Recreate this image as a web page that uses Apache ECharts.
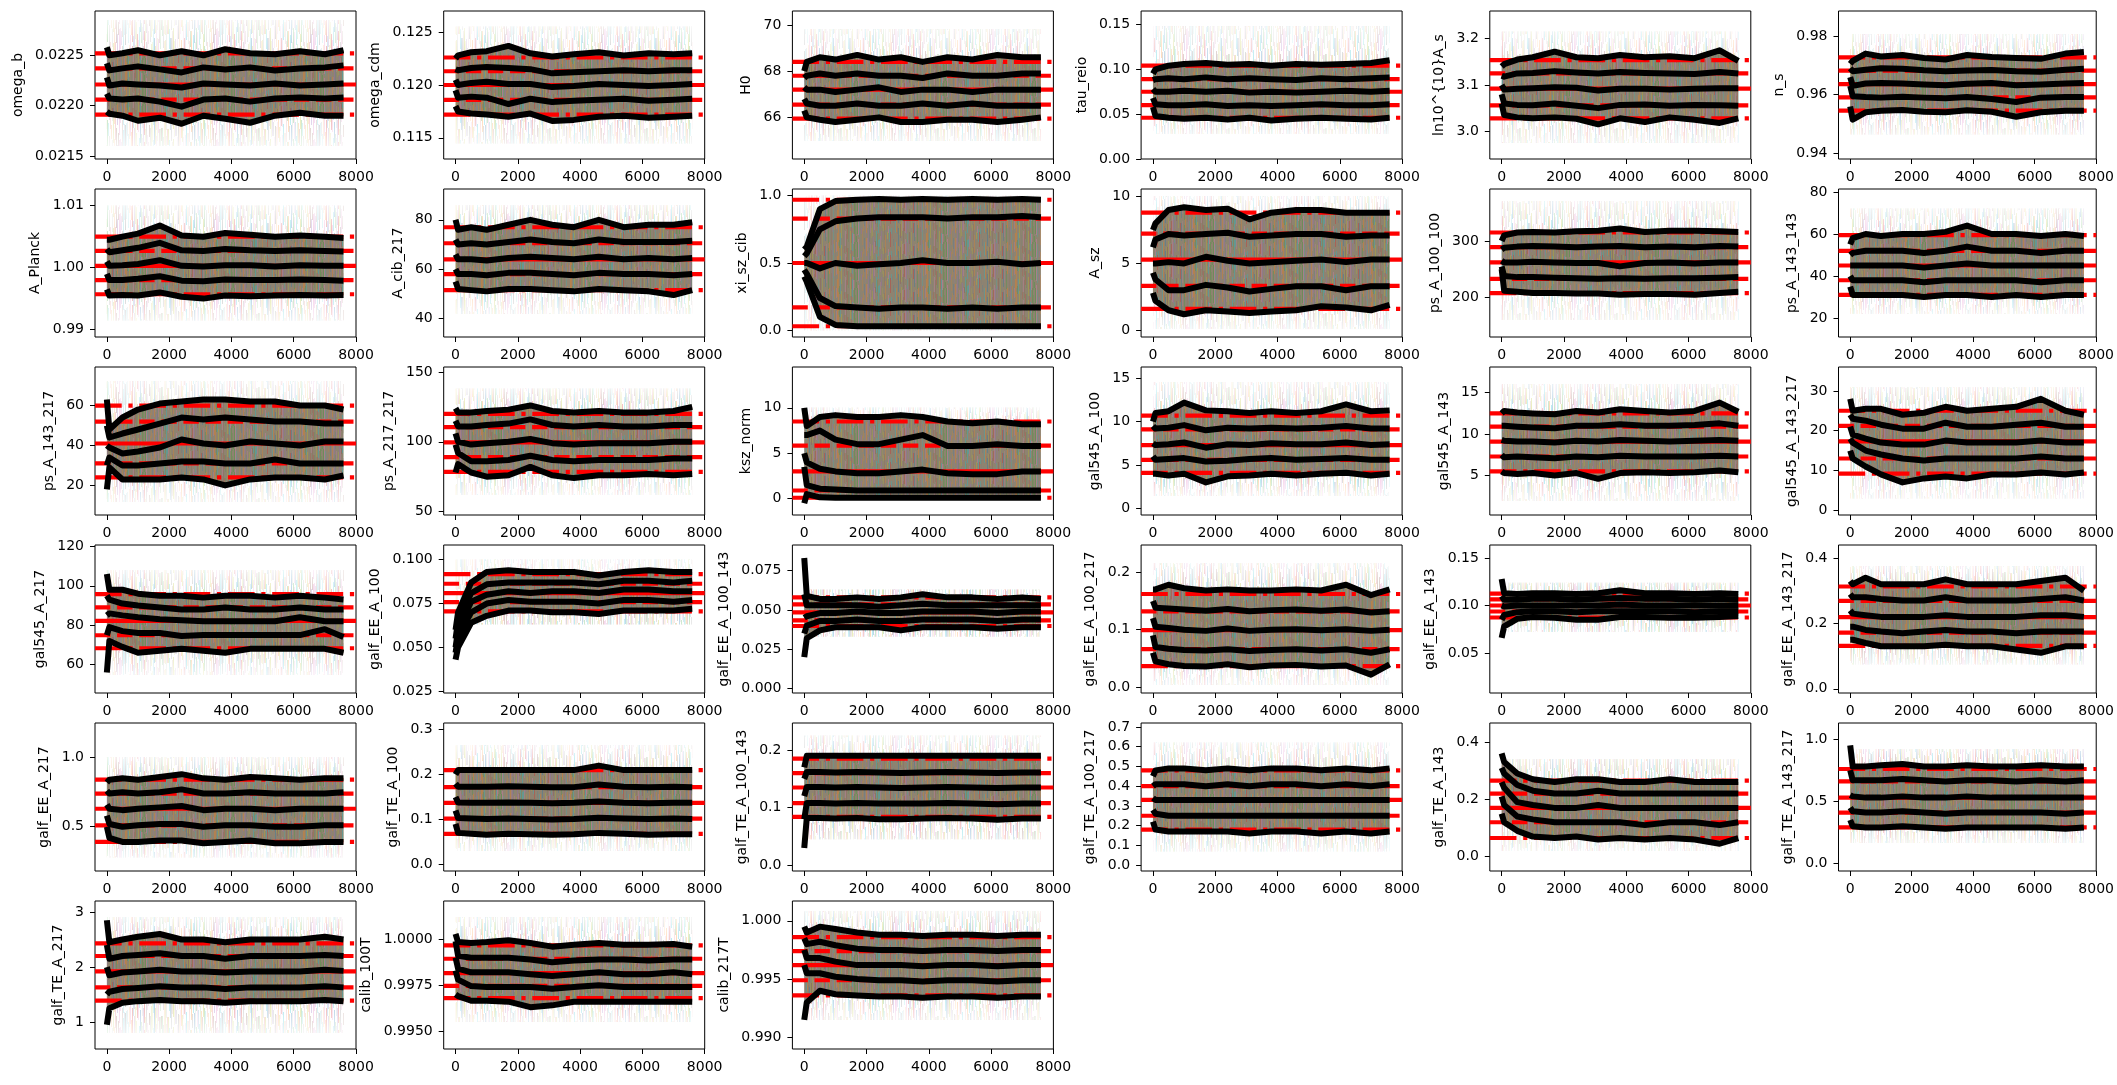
<!DOCTYPE html>
<html>
<head>
<meta charset="utf-8">
<script src="https://cdn.jsdelivr.net/npm/echarts@6.0.0/dist/echarts.min.js"></script>
<style>
  html, body { margin: 0; padding: 0; background: #fff; }
  #chart { width: 2117px; height: 1085px; }
</style>
</head>
<body>
<div id="chart"></div>
<script>
// sample index of the running-quantile traces
var steps = [0, 80, 500, 1000, 1700, 2400, 3100, 3800, 4600, 5400, 6200, 7000, 7600];

var names = [
  'omega_b', 'omega_cdm', 'H0', 'tau_reio', 'ln10^{10}A_s', 'n_s',
  'A_Planck', 'A_cib_217', 'xi_sz_cib', 'A_sz', 'ps_A_100_100', 'ps_A_143_143',
  'ps_A_143_217', 'ps_A_217_217', 'ksz_norm', 'gal545_A_100', 'gal545_A_143', 'gal545_A_143_217',
  'gal545_A_217', 'galf_EE_A_100', 'galf_EE_A_100_143', 'galf_EE_A_100_217', 'galf_EE_A_143', 'galf_EE_A_143_217',
  'galf_EE_A_217', 'galf_TE_A_100', 'galf_TE_A_100_143', 'galf_TE_A_100_217', 'galf_TE_A_143', 'galf_TE_A_143_217',
  'galf_TE_A_217', 'calib_100T', 'calib_217T'
];

var yLimits = [
  [0.02147, 0.02294], [0.1130, 0.1270], [64.2, 70.6], [0.0, 0.165], [2.94, 3.26], [0.9381, 0.9885],
  [0.9888, 1.0127], [32.5, 92.5], [-0.05, 1.05], [-0.5, 10.57], [130, 392], [11, 81.4],
  [5.2, 79.3], [47.6, 153.5], [-1.8, 14.5], [-0.76, 16.3], [0.24, 18.1], [-1.2, 36],
  [45.6, 120.7], [0.024, 0.1084], [-0.0028, 0.0913], [-0.0098, 0.247], [0.0079, 0.1637], [-0.013, 0.44],
  [0.18, 1.25], [-0.015, 0.315], [-0.01, 0.247], [-0.03, 0.72], [-0.05, 0.466], [-0.06, 1.13],
  [0.51, 3.2], [0.99402, 1.00209], [0.989, 1.0017]
];

var yTicks = [
  ['0.0215', '0.0220', '0.0225'], ['0.115', '0.120', '0.125'], ['66', '68', '70'],
  ['0.00', '0.05', '0.10', '0.15'], ['3.0', '3.1', '3.2'], ['0.94', '0.96', '0.98'],
  ['0.99', '1.00', '1.01'], ['40', '60', '80'], ['0.0', '0.5', '1.0'], ['0', '5', '10'],
  ['200', '300'], ['20', '40', '60', '80'],
  ['20', '40', '60'], ['50', '100', '150'], ['0', '5', '10'], ['0', '5', '10', '15'],
  ['5', '10', '15'], ['0', '10', '20', '30'],
  ['60', '80', '100', '120'], ['0.025', '0.050', '0.075', '0.100'], ['0.000', '0.025', '0.050', '0.075'],
  ['0.0', '0.1', '0.2'], ['0.05', '0.10', '0.15'], ['0.0', '0.2', '0.4'],
  ['0.5', '1.0'], ['0.0', '0.1', '0.2', '0.3'], ['0.0', '0.1', '0.2'],
  ['0.0', '0.1', '0.2', '0.3', '0.4', '0.5', '0.6', '0.7'], ['0.0', '0.2', '0.4'], ['0.0', '0.5', '1.0'],
  ['1', '2', '3'], ['0.9950', '0.9975', '1.0000'], ['0.990', '0.995', '1.000']
];

var xTicks = [0, 2000, 4000, 6000, 8000];

// red reference levels (outer, inner, median, inner, outer)
var redLevels = [
  [0.02252, 0.02237, 0.02221, 0.02206, 0.02191], [0.1226, 0.1213, 0.1200, 0.1186, 0.1172],
  [68.4, 67.8, 67.2, 66.55, 65.95], [0.104, 0.089, 0.075, 0.060, 0.046],
  [3.154, 3.125, 3.092, 3.056, 3.028], [0.9727, 0.9682, 0.9636, 0.9591, 0.9546],
  [1.005, 1.0027, 1.0003, 0.9980, 0.9957], [77, 70.5, 64, 58, 51.5], [0.97, 0.83, 0.50, 0.17, 0.03],
  [8.8, 7.23, 5.28, 3.32, 1.6], [315, 289, 262, 233, 207.5], [59.5, 52, 45, 38, 31],
  [60, 52, 41, 31, 24], [120, 110.5, 99.5, 89, 78.5], [8.5, 5.85, 3.0, 0.9, 0.1],
  [10.7, 9.1, 7.3, 5.6, 4.1], [12.5, 10.9, 9.1, 7.3, 5.5], [25, 21.2, 17.3, 13, 9.2],
  [95.8, 89, 82.2, 74.9, 68.3], [0.0918, 0.0863, 0.081, 0.0758, 0.0705], [0.058, 0.0536, 0.0485, 0.0434, 0.0398],
  [0.162, 0.132, 0.0994, 0.0665, 0.037], [0.1125, 0.1065, 0.1, 0.0937, 0.0874], [0.313, 0.269, 0.219, 0.172, 0.131],
  [0.84, 0.74, 0.63, 0.51, 0.39], [0.21, 0.172, 0.137, 0.102, 0.068], [0.185, 0.16, 0.135, 0.108, 0.084],
  [0.48, 0.40, 0.33, 0.25, 0.18], [0.265, 0.22, 0.17, 0.12, 0.065], [0.76, 0.66, 0.53, 0.41, 0.29],
  [2.43, 2.2, 1.92, 1.63, 1.39], [0.99967, 0.99894, 0.99816, 0.99746, 0.99679], [0.9986, 0.9974, 0.9962, 0.9949, 0.9936]
];

// extent of the faint individual chains
var haloRange = [
  [0.0216, 0.02285], [0.1145, 0.1255], [65.0, 69.8], [0.028, 0.148], [2.975, 3.215], [0.9465, 0.9805],
  [0.9915, 1.0100], [42, 86], [0.0, 1.0], [0.1, 10.0], [160, 370], [22, 72],
  [12, 72], [62, 138], [0.0, 10.0], [1.5, 14.5], [2, 16], [3, 31],
  [55, 108], [0.063, 0.100], [0.033, 0.063], [0.005, 0.215], [0.072, 0.124], [0.075, 0.375],
  [0.28, 1.0], [0.03, 0.265], [0.045, 0.225], [0.07, 0.62], [0.02, 0.34], [0.17, 0.92],
  [0.8, 2.9], [0.9955, 1.0012], [0.9915, 1.0008]
];

// running quantile traces, top to bottom, one value per entry of steps
var tr_omega_b = [
  [0.02258, 0.02250, 0.02252, 0.02255, 0.02250, 0.02254, 0.02250, 0.02256, 0.02252, 0.02251, 0.02254, 0.02251, 0.02255],
  [0.02242, 0.02235, 0.02237, 0.02239, 0.02236, 0.02233, 0.02238, 0.02236, 0.02238, 0.02235, 0.02237, 0.02238, 0.02240],
  [0.02228, 0.02220, 0.02222, 0.02221, 0.02220, 0.02218, 0.02222, 0.02221, 0.02220, 0.02222, 0.02220, 0.02221, 0.02222],
  [0.02212, 0.02207, 0.02206, 0.02207, 0.02204, 0.02199, 0.02206, 0.02207, 0.02204, 0.02207, 0.02208, 0.02207, 0.02208],
  [0.02194, 0.02192, 0.02190, 0.02185, 0.02188, 0.02182, 0.02190, 0.02187, 0.02183, 0.02190, 0.02193, 0.02190, 0.02190]
];
var tr_omega_cdm = [
  [0.1225, 0.1228, 0.1231, 0.1232, 0.1237, 0.1230, 0.1227, 0.1229, 0.1231, 0.1228, 0.1230, 0.1229, 0.1230],
  [0.1215, 0.1214, 0.1216, 0.1217, 0.1216, 0.1215, 0.1211, 0.1212, 0.1213, 0.1214, 0.1213, 0.1214, 0.1214],
  [0.1205, 0.1200, 0.1202, 0.1203, 0.1201, 0.1201, 0.1198, 0.1199, 0.1201, 0.1200, 0.1199, 0.1200, 0.1201],
  [0.1195, 0.1188, 0.1189, 0.1188, 0.1182, 0.1187, 0.1184, 0.1185, 0.1186, 0.1187, 0.1185, 0.1186, 0.1187],
  [0.1180, 0.1175, 0.1173, 0.1172, 0.1170, 0.1173, 0.1166, 0.1167, 0.1170, 0.1171, 0.1169, 0.1170, 0.1171]
];
var tr_H0 = [
  [68.0, 68.4, 68.6, 68.5, 68.7, 68.5, 68.6, 68.4, 68.6, 68.5, 68.7, 68.6, 68.6],
  [67.7, 67.8, 67.9, 67.8, 67.9, 67.8, 67.8, 67.7, 67.9, 67.8, 67.8, 67.9, 67.9],
  [67.3, 67.2, 67.2, 67.1, 67.2, 67.3, 67.1, 67.2, 67.2, 67.1, 67.2, 67.2, 67.2],
  [66.8, 66.6, 66.5, 66.5, 66.6, 66.5, 66.5, 66.6, 66.5, 66.6, 66.5, 66.5, 66.5],
  [66.3, 66.0, 65.9, 65.8, 65.9, 66.0, 65.8, 65.8, 65.9, 65.9, 65.8, 65.9, 66.0]
];
var tr_tau_reio = [
  [0.095, 0.100, 0.104, 0.106, 0.107, 0.105, 0.106, 0.104, 0.106, 0.105, 0.106, 0.107, 0.110],
  [0.088, 0.089, 0.090, 0.089, 0.091, 0.089, 0.090, 0.089, 0.088, 0.090, 0.089, 0.090, 0.091],
  [0.078, 0.075, 0.075, 0.076, 0.075, 0.076, 0.074, 0.075, 0.074, 0.075, 0.076, 0.075, 0.076],
  [0.068, 0.061, 0.060, 0.060, 0.061, 0.059, 0.060, 0.059, 0.060, 0.061, 0.060, 0.060, 0.061],
  [0.058, 0.048, 0.046, 0.045, 0.046, 0.044, 0.046, 0.043, 0.045, 0.046, 0.045, 0.044, 0.046]
];
var tr_A_s = [
  [3.140, 3.145, 3.155, 3.160, 3.172, 3.160, 3.158, 3.165, 3.160, 3.162, 3.158, 3.175, 3.152],
  [3.120, 3.118, 3.125, 3.126, 3.130, 3.127, 3.125, 3.128, 3.126, 3.125, 3.124, 3.128, 3.125],
  [3.100, 3.090, 3.092, 3.093, 3.095, 3.094, 3.088, 3.092, 3.092, 3.090, 3.092, 3.093, 3.093],
  [3.080, 3.060, 3.057, 3.056, 3.060, 3.055, 3.050, 3.057, 3.058, 3.055, 3.057, 3.056, 3.055],
  [3.060, 3.035, 3.030, 3.028, 3.030, 3.027, 3.015, 3.028, 3.020, 3.030, 3.025, 3.018, 3.028]
];
var tr_n_s = [
  [0.9705, 0.9715, 0.9740, 0.9730, 0.9735, 0.9725, 0.9720, 0.9735, 0.9728, 0.9725, 0.9722, 0.9740, 0.9745],
  [0.9690, 0.9680, 0.9685, 0.9690, 0.9688, 0.9683, 0.9680, 0.9682, 0.9684, 0.9680, 0.9678, 0.9685, 0.9688],
  [0.9660, 0.9630, 0.9638, 0.9640, 0.9638, 0.9635, 0.9632, 0.9637, 0.9640, 0.9632, 0.9635, 0.9638, 0.9640],
  [0.9630, 0.9595, 0.9592, 0.9590, 0.9593, 0.9590, 0.9588, 0.9592, 0.9585, 0.9575, 0.9590, 0.9592, 0.9592],
  [0.9560, 0.9515, 0.9540, 0.9545, 0.9548, 0.9542, 0.9540, 0.9547, 0.9542, 0.9525, 0.9540, 0.9545, 0.9545]
];
var tr_A_Planck = [
  [1.0045, 1.0045, 1.0050, 1.0055, 1.0068, 1.0052, 1.0050, 1.0056, 1.0053, 1.0050, 1.0052, 1.0050, 1.0048],
  [1.0030, 1.0025, 1.0028, 1.0032, 1.0040, 1.0028, 1.0027, 1.0030, 1.0028, 1.0027, 1.0028, 1.0027, 1.0026],
  [1.0010, 1.0003, 1.0004, 1.0006, 1.0012, 1.0003, 1.0002, 1.0004, 1.0004, 1.0002, 1.0004, 1.0003, 1.0003],
  [0.9990, 0.9980, 0.9980, 0.9982, 0.9986, 0.9979, 0.9978, 0.9981, 0.9980, 0.9980, 0.9981, 0.9980, 0.9979],
  [0.9965, 0.9955, 0.9956, 0.9955, 0.9960, 0.9953, 0.9950, 0.9955, 0.9954, 0.9955, 0.9956, 0.9955, 0.9956]
];
var tr_A_cib_217 = [
  [80, 76, 77, 76, 78, 80, 78, 77, 80, 77, 78, 78, 79],
  [72, 70, 70.5, 70, 71, 72, 71, 70.5, 72, 71, 71, 71, 71.5],
  [66, 64, 64, 63.5, 64.5, 65, 64.5, 64, 65, 64, 64.5, 64, 64.5],
  [60, 58, 58, 57.5, 58.5, 58.5, 58, 57.5, 58.5, 58, 58, 57.5, 58],
  [55, 52, 51.5, 51, 52, 52, 51.5, 51, 52, 51.5, 51, 49.5, 51.5]
];
var tr_xi_sz_cib = [
  [0.60, 0.62, 0.90, 0.96, 0.97, 0.975, 0.97, 0.975, 0.97, 0.975, 0.97, 0.975, 0.97],
  [0.55, 0.57, 0.75, 0.81, 0.83, 0.84, 0.84, 0.84, 0.83, 0.84, 0.84, 0.85, 0.84],
  [0.50, 0.50, 0.46, 0.50, 0.48, 0.49, 0.50, 0.52, 0.50, 0.50, 0.51, 0.49, 0.50],
  [0.45, 0.42, 0.24, 0.18, 0.17, 0.16, 0.17, 0.17, 0.16, 0.17, 0.16, 0.17, 0.17],
  [0.40, 0.36, 0.10, 0.04, 0.03, 0.03, 0.03, 0.03, 0.03, 0.03, 0.03, 0.03, 0.03]
];
var tr_A_sz = [
  [7.5, 8.0, 9.0, 9.2, 9.0, 9.1, 8.3, 8.8, 9.0, 9.0, 8.8, 8.8, 8.8],
  [6.2, 6.8, 7.2, 7.1, 7.2, 7.3, 7.0, 7.1, 7.2, 7.2, 7.0, 7.1, 7.1],
  [5.0, 5.0, 5.1, 5.0, 5.5, 5.2, 5.0, 5.1, 5.2, 5.3, 5.1, 5.3, 5.3],
  [4.3, 3.8, 3.0, 3.0, 3.4, 3.2, 2.9, 3.1, 3.3, 3.3, 3.0, 3.3, 3.3],
  [2.8, 2.2, 1.5, 1.2, 1.5, 1.4, 1.3, 1.4, 1.5, 1.8, 1.7, 1.5, 1.9]
];
var tr_ps_A_100_100 = [
  [300, 310, 315, 316, 315, 317, 318, 322, 316, 318, 318, 317, 316],
  [285, 288, 290, 291, 290, 289, 290, 291, 289, 290, 289, 291, 290],
  [265, 262, 262, 263, 262, 261, 261, 255, 261, 262, 260, 262, 262],
  [255, 238, 236, 236, 235, 234, 233, 234, 233, 234, 234, 235, 236],
  [250, 212, 210, 208, 208, 207, 207, 205, 206, 206, 205, 208, 210]
];
var tr_ps_A_143_143 = [
  [55, 58, 60, 59, 60, 60, 61, 64, 60, 60, 59, 60, 59],
  [50, 51, 52, 52, 52, 51, 52, 54, 52, 52, 51, 52, 52],
  [45, 45, 45, 45, 45, 44, 45, 46, 45, 45, 45, 45, 45],
  [40, 38, 38, 38, 38, 37, 38, 38, 38, 38, 37, 38, 38],
  [35, 31, 31, 31, 31, 30, 31, 31, 30, 31, 30, 31, 31]
];
var tr_ps_A_143_217 = [
  [63, 48, 54, 58, 61, 62, 63, 63, 62, 62, 60, 60, 58],
  [50, 44, 46, 48, 51, 54, 53, 54, 53, 52, 52, 51, 51],
  [40, 39, 36, 37, 39, 43, 41, 40, 42, 41, 40, 42, 42],
  [30, 34, 30, 30, 31, 32, 32, 31, 31, 33, 31, 31, 31],
  [18, 29, 23, 23, 23, 24, 23, 20, 23, 24, 24, 23, 25]
];
var tr_ps_A_217_217 = [
  [124, 121, 121, 122, 123, 126, 122, 121, 122, 121, 121, 122, 125],
  [115, 111, 111, 112, 113, 116, 112, 111, 112, 111, 111, 112, 112],
  [106, 100, 98, 99, 100, 102, 99, 98, 99, 99, 99, 100, 100],
  [98, 92, 86, 86, 87, 90, 87, 86, 87, 87, 87, 88, 88],
  [78, 84, 78, 75, 76, 82, 76, 74, 76, 76, 77, 76, 77]
];
var tr_ksz_norm = [
  [10, 8, 9, 9.2, 9, 9, 9.2, 9, 8.5, 8.3, 8.5, 8.2, 8.2],
  [7, 7, 7.5, 6.5, 6, 6, 6.5, 7, 5.8, 5.8, 6, 5.8, 5.8],
  [5, 4, 3.3, 3, 2.8, 2.8, 3, 3.2, 2.8, 2.7, 2.7, 3, 3],
  [3.5, 1.5, 1.1, 1, 0.9, 0.9, 0.9, 0.9, 0.9, 0.9, 0.9, 0.9, 0.9],
  [-0.5, 0.5, 0.15, 0.1, 0.1, 0.1, 0.1, 0.1, 0.1, 0.1, 0.1, 0.1, 0.1]
];
var tr_gal545_A_100 = [
  [10, 11, 11.2, 12.2, 11.3, 11.2, 11.0, 11.2, 11.0, 11.2, 12.0, 11.2, 11.3],
  [9.5, 9.2, 9.3, 9.6, 9.0, 9.3, 9.2, 9.3, 9.2, 9.3, 9.5, 9.2, 9.2],
  [7.5, 7.3, 7.4, 7.6, 7.0, 7.4, 7.3, 7.5, 7.4, 7.4, 7.6, 7.3, 7.4],
  [6, 5.6, 5.7, 5.8, 5.4, 5.5, 5.7, 5.8, 5.6, 5.7, 5.8, 5.6, 5.6],
  [4, 4.0, 3.8, 4.0, 3.0, 3.7, 3.8, 4.0, 3.8, 4.0, 4.1, 3.8, 4.0]
];
var tr_gal545_A_143 = [
  [12.5, 12.8, 12.6, 12.5, 12.4, 12.8, 12.6, 13.0, 12.8, 12.6, 12.8, 13.8, 12.7],
  [11, 11, 10.9, 10.8, 10.7, 11, 11, 11.2, 11, 11, 11.1, 11.3, 11],
  [9.3, 9.2, 9.1, 9.1, 9.0, 9.2, 9.1, 9.3, 9.2, 9.1, 9.2, 9.3, 9.2],
  [7.5, 7.2, 7.3, 7.2, 7.1, 7.3, 7.2, 7.4, 7.3, 7.3, 7.3, 7.4, 7.3],
  [5.5, 5.3, 5.2, 5.3, 5.0, 5.3, 4.6, 5.3, 5.4, 5.3, 5.4, 5.6, 5.4]
];
var tr_gal545_A_143_217 = [
  [28, 25, 25.5, 25.5, 24, 24.5, 26, 25, 25.5, 26, 28, 25, 24],
  [24, 23, 22.5, 21.5, 20.5, 20.5, 22, 21, 21, 21.5, 22, 21, 21],
  [21, 19, 18, 17, 16.5, 16.5, 17.5, 17, 17, 17, 17.5, 17, 17],
  [18, 17, 15, 14, 13, 12.5, 13, 13, 13, 13, 13.5, 13, 13],
  [15, 13, 11, 9, 7, 8, 8.5, 8, 9, 9, 9.5, 9, 9.5]
];
var tr_gal545_A_217 = [
  [106, 98, 98, 96, 95, 95, 94, 95, 95, 94, 95, 94, 93],
  [95, 93, 91, 90, 89, 88, 88, 89, 88, 88, 89, 88, 88],
  [85, 86, 85, 84, 83, 82.5, 82, 82, 82, 82, 84, 82, 82],
  [75, 79, 77, 76, 76, 74.5, 75, 75, 75, 75, 75, 78, 74],
  [56, 72, 69, 66, 67, 68, 67, 66, 68, 68, 68, 68, 66]
];
var tr_galf_EE_A_100 = [
  [0.060, 0.070, 0.087, 0.093, 0.094, 0.093, 0.093, 0.093, 0.091, 0.093, 0.094, 0.093, 0.093],
  [0.055, 0.065, 0.081, 0.086, 0.087, 0.087, 0.087, 0.087, 0.086, 0.088, 0.088, 0.087, 0.088],
  [0.050, 0.060, 0.076, 0.080, 0.082, 0.081, 0.082, 0.082, 0.081, 0.083, 0.083, 0.082, 0.082],
  [0.047, 0.056, 0.070, 0.075, 0.077, 0.076, 0.076, 0.076, 0.075, 0.077, 0.077, 0.076, 0.077],
  [0.043, 0.050, 0.064, 0.068, 0.071, 0.071, 0.070, 0.070, 0.069, 0.071, 0.071, 0.071, 0.072]
];
var tr_galf_EE_A_100_143 = [
  [0.083, 0.059, 0.057, 0.057, 0.058, 0.057, 0.058, 0.060, 0.058, 0.058, 0.057, 0.058, 0.057],
  [0.060, 0.053, 0.053, 0.053, 0.053, 0.052, 0.053, 0.054, 0.053, 0.053, 0.053, 0.053, 0.053],
  [0.045, 0.046, 0.048, 0.048, 0.049, 0.048, 0.048, 0.049, 0.049, 0.049, 0.048, 0.049, 0.049],
  [0.035, 0.040, 0.043, 0.043, 0.044, 0.043, 0.043, 0.044, 0.044, 0.044, 0.043, 0.044, 0.044],
  [0.020, 0.032, 0.037, 0.039, 0.039, 0.039, 0.037, 0.039, 0.039, 0.039, 0.038, 0.039, 0.039]
];
var tr_galf_EE_A_100_217 = [
  [0.17, 0.17, 0.178, 0.172, 0.168, 0.170, 0.168, 0.168, 0.170, 0.168, 0.178, 0.160, 0.170],
  [0.15, 0.138, 0.137, 0.135, 0.133, 0.136, 0.132, 0.134, 0.135, 0.133, 0.135, 0.130, 0.132],
  [0.12, 0.105, 0.103, 0.100, 0.098, 0.102, 0.098, 0.100, 0.101, 0.099, 0.101, 0.098, 0.100],
  [0.09, 0.070, 0.067, 0.065, 0.064, 0.066, 0.063, 0.065, 0.066, 0.064, 0.066, 0.060, 0.066],
  [0.06, 0.045, 0.040, 0.037, 0.036, 0.040, 0.035, 0.038, 0.039, 0.036, 0.038, 0.022, 0.040]
];
var tr_galf_EE_A_143 = [
  [0.128, 0.113, 0.112, 0.113, 0.113, 0.112, 0.113, 0.116, 0.113, 0.113, 0.112, 0.113, 0.112],
  [0.110, 0.106, 0.106, 0.107, 0.107, 0.106, 0.107, 0.108, 0.107, 0.107, 0.106, 0.107, 0.106],
  [0.100, 0.099, 0.100, 0.100, 0.100, 0.100, 0.100, 0.101, 0.100, 0.100, 0.100, 0.100, 0.100],
  [0.085, 0.090, 0.093, 0.094, 0.094, 0.093, 0.094, 0.094, 0.094, 0.094, 0.093, 0.094, 0.094],
  [0.066, 0.078, 0.086, 0.088, 0.087, 0.085, 0.085, 0.088, 0.088, 0.087, 0.087, 0.088, 0.089]
];
var tr_galf_EE_A_143_217 = [
  [0.33, 0.32, 0.34, 0.32, 0.32, 0.32, 0.335, 0.32, 0.32, 0.32, 0.33, 0.34, 0.30],
  [0.29, 0.28, 0.28, 0.275, 0.27, 0.27, 0.28, 0.27, 0.27, 0.27, 0.275, 0.28, 0.27],
  [0.24, 0.23, 0.225, 0.22, 0.22, 0.22, 0.225, 0.22, 0.22, 0.22, 0.225, 0.225, 0.22],
  [0.19, 0.19, 0.18, 0.175, 0.17, 0.175, 0.18, 0.175, 0.175, 0.17, 0.175, 0.175, 0.175],
  [0.15, 0.15, 0.14, 0.13, 0.13, 0.13, 0.135, 0.13, 0.13, 0.12, 0.11, 0.13, 0.13]
];
var tr_galf_EE_A_217 = [
  [0.82, 0.84, 0.85, 0.84, 0.86, 0.88, 0.85, 0.84, 0.86, 0.85, 0.84, 0.85, 0.85],
  [0.76, 0.74, 0.75, 0.74, 0.75, 0.77, 0.74, 0.74, 0.75, 0.74, 0.74, 0.74, 0.75],
  [0.66, 0.63, 0.62, 0.63, 0.64, 0.65, 0.62, 0.63, 0.63, 0.62, 0.63, 0.63, 0.63],
  [0.58, 0.52, 0.50, 0.51, 0.52, 0.52, 0.50, 0.51, 0.51, 0.50, 0.50, 0.51, 0.51],
  [0.50, 0.42, 0.39, 0.39, 0.40, 0.40, 0.38, 0.39, 0.40, 0.38, 0.38, 0.39, 0.39]
];
var tr_galf_TE_A_100 = [
  [0.20, 0.21, 0.21, 0.21, 0.21, 0.21, 0.21, 0.21, 0.22, 0.21, 0.21, 0.21, 0.21],
  [0.18, 0.173, 0.173, 0.173, 0.174, 0.173, 0.172, 0.172, 0.178, 0.173, 0.172, 0.173, 0.172],
  [0.15, 0.138, 0.137, 0.137, 0.138, 0.137, 0.136, 0.137, 0.140, 0.137, 0.136, 0.137, 0.137],
  [0.12, 0.103, 0.102, 0.101, 0.102, 0.101, 0.100, 0.101, 0.104, 0.102, 0.101, 0.102, 0.101],
  [0.09, 0.070, 0.068, 0.066, 0.068, 0.067, 0.066, 0.067, 0.070, 0.068, 0.066, 0.067, 0.067]
];
var tr_galf_TE_A_100_143 = [
  [0.17, 0.19, 0.19, 0.19, 0.19, 0.19, 0.19, 0.19, 0.19, 0.19, 0.19, 0.19, 0.19],
  [0.15, 0.162, 0.162, 0.161, 0.162, 0.161, 0.160, 0.161, 0.162, 0.161, 0.160, 0.161, 0.161],
  [0.12, 0.136, 0.136, 0.135, 0.136, 0.135, 0.134, 0.135, 0.136, 0.135, 0.134, 0.135, 0.135],
  [0.08, 0.108, 0.108, 0.107, 0.108, 0.107, 0.107, 0.107, 0.108, 0.107, 0.106, 0.107, 0.107],
  [0.03, 0.082, 0.082, 0.081, 0.082, 0.080, 0.080, 0.081, 0.082, 0.081, 0.079, 0.081, 0.081]
];
var tr_galf_TE_A_100_217 = [
  [0.45, 0.48, 0.49, 0.49, 0.48, 0.49, 0.48, 0.49, 0.49, 0.48, 0.49, 0.48, 0.49],
  [0.40, 0.41, 0.41, 0.41, 0.40, 0.41, 0.40, 0.41, 0.41, 0.40, 0.41, 0.40, 0.41],
  [0.34, 0.33, 0.33, 0.33, 0.33, 0.33, 0.33, 0.33, 0.33, 0.33, 0.33, 0.33, 0.33],
  [0.28, 0.26, 0.25, 0.25, 0.25, 0.25, 0.25, 0.25, 0.25, 0.25, 0.25, 0.25, 0.25],
  [0.22, 0.18, 0.17, 0.17, 0.17, 0.17, 0.16, 0.17, 0.17, 0.16, 0.17, 0.16, 0.17]
];
var tr_galf_TE_A_143 = [
  [0.36, 0.33, 0.29, 0.27, 0.26, 0.27, 0.27, 0.26, 0.26, 0.27, 0.26, 0.26, 0.26],
  [0.31, 0.29, 0.25, 0.23, 0.22, 0.22, 0.23, 0.22, 0.22, 0.22, 0.22, 0.22, 0.22],
  [0.26, 0.24, 0.19, 0.18, 0.17, 0.17, 0.18, 0.17, 0.17, 0.17, 0.17, 0.17, 0.17],
  [0.21, 0.18, 0.14, 0.13, 0.12, 0.12, 0.12, 0.12, 0.11, 0.12, 0.12, 0.11, 0.12],
  [0.15, 0.12, 0.09, 0.07, 0.065, 0.07, 0.06, 0.065, 0.06, 0.065, 0.06, 0.045, 0.065]
];
var tr_galf_TE_A_143_217 = [
  [0.95, 0.78, 0.78, 0.79, 0.80, 0.78, 0.78, 0.79, 0.78, 0.78, 0.79, 0.78, 0.78],
  [0.75, 0.67, 0.67, 0.67, 0.68, 0.67, 0.66, 0.67, 0.67, 0.66, 0.67, 0.66, 0.67],
  [0.55, 0.54, 0.53, 0.53, 0.54, 0.53, 0.53, 0.54, 0.53, 0.53, 0.53, 0.53, 0.53],
  [0.45, 0.42, 0.41, 0.41, 0.42, 0.41, 0.40, 0.41, 0.41, 0.41, 0.41, 0.40, 0.41],
  [0.35, 0.30, 0.29, 0.29, 0.30, 0.29, 0.28, 0.29, 0.29, 0.29, 0.29, 0.28, 0.29]
];
var tr_galf_TE_A_217 = [
  [2.85, 2.45, 2.5, 2.55, 2.6, 2.5, 2.5, 2.45, 2.5, 2.5, 2.5, 2.55, 2.5],
  [2.4, 2.15, 2.2, 2.22, 2.25, 2.2, 2.2, 2.15, 2.2, 2.2, 2.2, 2.22, 2.2],
  [2.0, 1.85, 1.9, 1.92, 1.95, 1.92, 1.92, 1.9, 1.92, 1.92, 1.92, 1.95, 1.93],
  [1.5, 1.55, 1.6, 1.62, 1.65, 1.63, 1.63, 1.6, 1.63, 1.63, 1.63, 1.65, 1.63],
  [0.95, 1.25, 1.35, 1.38, 1.4, 1.38, 1.38, 1.35, 1.38, 1.38, 1.38, 1.4, 1.38]
];
var tr_calib_100T = [
  [1.0003, 0.99985, 0.9998, 0.99985, 0.99995, 0.9998, 0.9996, 0.9997, 0.9998, 0.9997, 0.9997, 0.99975, 0.9996],
  [0.9999, 0.9991, 0.9990, 0.9990, 0.9990, 0.9989, 0.99875, 0.99885, 0.9989, 0.9989, 0.99885, 0.9989, 0.9989],
  [0.9990, 0.9984, 0.9982, 0.9982, 0.9982, 0.9981, 0.9980, 0.9981, 0.9982, 0.9981, 0.9981, 0.9982, 0.9981],
  [0.9983, 0.9978, 0.99745, 0.9974, 0.9974, 0.9974, 0.9973, 0.9974, 0.9975, 0.9974, 0.9974, 0.9974, 0.9974],
  [0.9970, 0.9969, 0.99665, 0.99665, 0.9966, 0.9963, 0.9964, 0.9966, 0.9966, 0.9966, 0.9966, 0.9966, 0.9966]
];
var tr_calib_217T = [
  [0.9995, 0.9990, 0.9995, 0.9993, 0.9990, 0.9988, 0.9988, 0.9987, 0.9988, 0.9988, 0.9987, 0.9988, 0.9988],
  [0.9985, 0.9980, 0.9982, 0.9979, 0.9976, 0.9975, 0.9975, 0.9974, 0.9975, 0.9975, 0.9974, 0.9975, 0.9975],
  [0.9975, 0.9968, 0.9968, 0.9965, 0.9962, 0.9962, 0.9962, 0.9961, 0.9962, 0.9962, 0.9961, 0.9962, 0.9962],
  [0.9962, 0.9955, 0.9955, 0.9952, 0.9950, 0.9949, 0.9949, 0.9948, 0.9949, 0.9949, 0.9948, 0.9949, 0.9949],
  [0.9915, 0.9930, 0.9940, 0.9937, 0.9936, 0.9935, 0.9935, 0.9934, 0.9935, 0.9935, 0.9934, 0.9935, 0.9935]
];

var traces = [
  tr_omega_b, tr_omega_cdm, tr_H0, tr_tau_reio, tr_A_s, tr_n_s,
  tr_A_Planck, tr_A_cib_217, tr_xi_sz_cib, tr_A_sz, tr_ps_A_100_100, tr_ps_A_143_143,
  tr_ps_A_143_217, tr_ps_A_217_217, tr_ksz_norm, tr_gal545_A_100, tr_gal545_A_143, tr_gal545_A_143_217,
  tr_gal545_A_217, tr_galf_EE_A_100, tr_galf_EE_A_100_143, tr_galf_EE_A_100_217, tr_galf_EE_A_143, tr_galf_EE_A_143_217,
  tr_galf_EE_A_217, tr_galf_TE_A_100, tr_galf_TE_A_100_143, tr_galf_TE_A_100_217, tr_galf_TE_A_143, tr_galf_TE_A_143_217,
  tr_galf_TE_A_217, tr_calib_100T, tr_calib_217T
];

// layout of the axes grid (pixels)
var COLS = 6;
var LEFT0 = 95, COL_STEP = 348.7, TOP0 = 11, ROW_STEP = 178;
var AX_W = 261, AX_H = 148;
var X_MIN = -381, X_MAX = 8001;
var FONT = 'DejaVu Sans';

var tab10 = ['#1f77b4', '#ff7f0e', '#2ca02c', '#d62728', '#9467bd',
             '#8c564b', '#e377c2', '#7f7f7f', '#bcbd22', '#17becf'];

function hexRgb(h) {
  return [parseInt(h.substr(1, 2), 16), parseInt(h.substr(3, 2), 16), parseInt(h.substr(5, 2), 16)];
}

// fixed hash used only to scatter the texture colours
function hash(i) {
  var x = Math.imul(i + 1, 2654435761) >>> 0;
  x = Math.imul(x ^ (x >>> 15), 2246822519) >>> 0;
  return (x ^ (x >>> 13)) >>> 0;
}

// texture standing in for the many overplotted chains between the outer traces
function corePattern() {
  var c = document.createElement('canvas');
  c.width = 89; c.height = 23;
  var ctx = c.getContext('2d');
  ctx.fillStyle = 'rgb(142,131,112)';
  ctx.fillRect(0, 0, c.width, c.height);
  for (var i = 0; i < c.width; i++) {
    var h = hash(i + 7);
    var t = hexRgb(tab10[h % 10]);
    var a = 0.16 + 0.18 * ((h >>> 4) % 5) / 4;
    ctx.fillStyle = 'rgba(' + t[0] + ',' + t[1] + ',' + t[2] + ',' + a.toFixed(3) + ')';
    var y0 = (h >>> 9) % c.height, len = 6 + (h >>> 13) % 14;
    ctx.fillRect(i, y0, 1, len);
    if (y0 + len > c.height) ctx.fillRect(i, 0, 1, y0 + len - c.height);
  }
  return { image: c, repeat: 'repeat' };
}

// faint spikes of single chains outside the dense region
function haloPattern() {
  var c = document.createElement('canvas');
  c.width = 97; c.height = 37;
  var ctx = c.getContext('2d');
  for (var i = 0; i < c.width; i++) {
    var h = hash(i + 101);
    var t = hexRgb(tab10[h % 10]);
    var a = 0.14 + 0.18 * ((h >>> 5) % 4) / 3;
    ctx.fillStyle = 'rgba(' + t[0] + ',' + t[1] + ',' + t[2] + ',' + a.toFixed(3) + ')';
    var y0 = (h >>> 9) % c.height, len = 12 + (h >>> 14) % 22;
    ctx.fillRect(i, y0, 1, len);
    if (y0 + len > c.height) ctx.fillRect(i, 0, 1, y0 + len - c.height);
  }
  return { image: c, repeat: 'repeat' };
}

var coreFill = corePattern();
var haloFill = haloPattern();
// white veils that thin the halo out towards its outer edges
var fadeUp = new echarts.graphic.LinearGradient(0, 0, 0, 1, [
  { offset: 0, color: 'rgba(255,255,255,0.7)' },
  { offset: 0.6, color: 'rgba(255,255,255,0.2)' },
  { offset: 1, color: 'rgba(255,255,255,0)' }
]);
var fadeDown = new echarts.graphic.LinearGradient(0, 0, 0, 1, [
  { offset: 0, color: 'rgba(255,255,255,0)' },
  { offset: 0.4, color: 'rgba(255,255,255,0.2)' },
  { offset: 1, color: 'rgba(255,255,255,0.7)' }
]);

var meas = document.createElement('canvas').getContext('2d');
meas.font = '14px "' + FONT + '"';

function bandSeries(k, upper, lower, fill, z) {
  return {
    type: 'custom',
    xAxisIndex: k,
    yAxisIndex: k,
    z: z,
    silent: true,
    clip: true,
    data: [[0, 0]],
    renderItem: function (params, api) {
      var pts = [];
      for (var i = 0; i < steps.length; i++) pts.push(api.coord([steps[i], upper[i]]));
      for (var j = steps.length - 1; j >= 0; j--) pts.push(api.coord([steps[j], lower[j]]));
      return { type: 'polygon', shape: { points: pts }, style: { fill: fill, stroke: null } };
    }
  };
}

var grids = [], xAxes = [], yAxes = [], series = [];

// matplotlib-like '-.', '--', '-' dash patterns for lw = 3pt
var redDash = [[26.7, 6.7, 4.2, 6.7], [15.4, 6.7], 'solid', [15.4, 6.7], [26.7, 6.7, 4.2, 6.7]];

names.forEach(function (name, k) {
  var col = k % COLS, row = Math.floor(k / COLS);
  grids.push({
    left: LEFT0 + col * COL_STEP,
    top: TOP0 + row * ROW_STEP,
    width: AX_W,
    height: AX_H,
    show: true,
    borderColor: '#000',
    borderWidth: 1,
    backgroundColor: 'transparent'
  });

  xAxes.push({
    type: 'value',
    gridIndex: k,
    position: 'bottom',
    min: X_MIN,
    max: X_MAX,
    axisLine: { show: false, onZero: false },
    splitLine: { show: false },
    axisTick: { show: true, length: 5, customValues: xTicks, lineStyle: { color: '#000', width: 1 } },
    axisLabel: {
      customValues: xTicks,
      margin: 11,
      color: '#000',
      fontSize: 14,
      fontFamily: FONT,
      formatter: function (v) { return String(Math.round(v)); }
    }
  });

  var labels = yTicks[k];
  var tickVals = labels.map(function (s) { return parseFloat(s); });
  var maxW = 0;
  labels.forEach(function (s) { maxW = Math.max(maxW, meas.measureText(s).width); });

  yAxes.push({
    type: 'value',
    gridIndex: k,
    position: 'left',
    min: yLimits[k][0],
    max: yLimits[k][1],
    name: name,
    nameLocation: 'middle',
    nameRotate: 90,
    nameGap: maxW + 21,
    nameTextStyle: { color: '#000', fontSize: 14, fontFamily: FONT },
    axisLine: { show: false, onZero: false },
    splitLine: { show: false },
    axisTick: { show: true, length: 5, customValues: tickVals, lineStyle: { color: '#000', width: 1 } },
    axisLabel: {
      customValues: tickVals,
      margin: 11,
      color: '#000',
      fontSize: 14,
      fontFamily: FONT,
      formatter: function (v) {
        var best = 0;
        for (var i = 1; i < tickVals.length; i++) {
          if (Math.abs(tickVals[i] - v) < Math.abs(tickVals[best] - v)) best = i;
        }
        return labels[best];
      }
    }
  });

  var tr = traces[k];
  var halo = haloRange[k];
  var hiLine = steps.map(function () { return halo[1]; });
  var loLine = steps.map(function () { return halo[0]; });

  // faint chains: sparse halo fading outwards, then dense core between the outer traces
  series.push(bandSeries(k, hiLine, loLine, haloFill, 1));
  series.push(bandSeries(k, hiLine, tr[0], fadeUp, 1.5));
  series.push(bandSeries(k, tr[4], loLine, fadeDown, 1.5));
  series.push(bandSeries(k, tr[0], tr[4], coreFill, 2));

  redLevels[k].forEach(function (v, i) {
    series.push({
      type: 'line',
      xAxisIndex: k,
      yAxisIndex: k,
      z: 3,
      silent: true,
      symbol: 'none',
      data: [[X_MIN, v], [X_MAX, v]],
      lineStyle: { color: '#ff0000', width: 4.2, type: redDash[i], cap: 'butt' }
    });
  });

  tr.forEach(function (vals) {
    series.push({
      type: 'line',
      xAxisIndex: k,
      yAxisIndex: k,
      z: 4,
      silent: true,
      symbol: 'none',
      data: steps.map(function (x, i) { return [x, vals[i]]; }),
      lineStyle: { color: '#000', width: 6, join: 'round' }
    });
  });
});

var chart = echarts.init(document.getElementById('chart'), null, { renderer: 'canvas' });
chart.setOption({
  animation: false,
  backgroundColor: '#fff',
  grid: grids,
  xAxis: xAxes,
  yAxis: yAxes,
  series: series
});
</script>
</body>
</html>
